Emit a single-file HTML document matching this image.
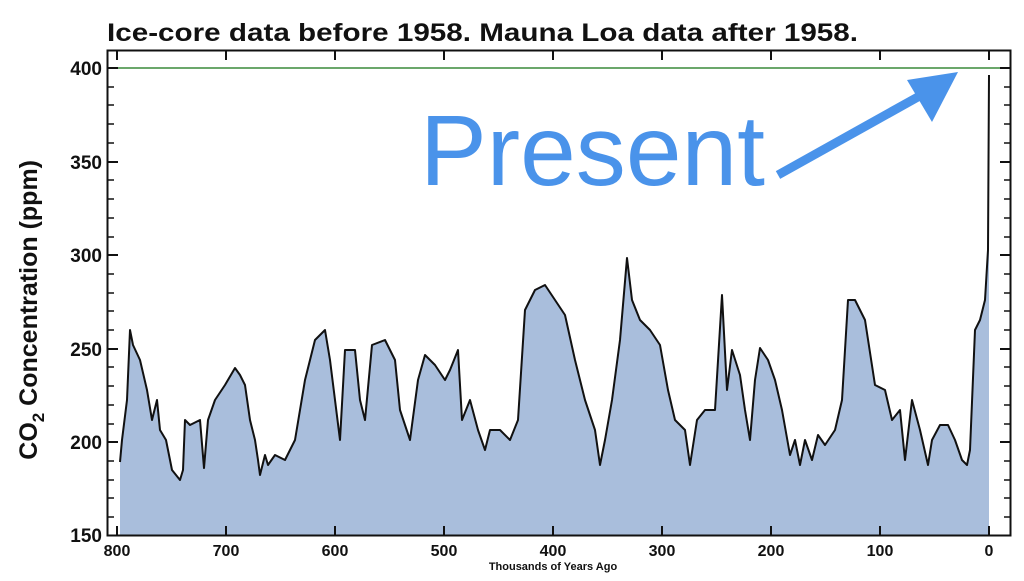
<!DOCTYPE html>
<html><head><meta charset="utf-8"><style>
body{margin:0;background:#fff;width:1024px;height:576px;overflow:hidden}
svg text{font-family:"Liberation Sans",sans-serif}
</style></head><body>
<svg width="1024" height="576" viewBox="0 0 1024 576">
<text x="107" y="41" font-size="25" font-weight="bold" fill="#111" textLength="751" lengthAdjust="spacingAndGlyphs">Ice-core data before 1958. Mauna Loa data after 1958.</text>
<polygon fill="#a9bedc" stroke="none" points="120,535 120,462 122,440 127,400 130,330 133,345 140,360 147,390 152,420 157,400 160,430 166,440 172,470 180,480 183,470 185,420 190,425 200,420 204,468 208,420 215,400 225,385 235,368 240,375 245,385 250,420 255,440 258,460 260,475 265,455 268,465 275,455 285,460 295,440 305,380 315,340 325,330 330,360 340,440 345,350 355,350 360,400 365,420 372,345 385,340 395,360 400,410 410,440 418,380 425,355 435,365 445,380 450,370 458,350 462,420 470,400 478,430 485,450 490,430 500,430 510,440 518,420 525,310 535,290 545,285 555,300 565,315 575,360 585,400 595,430 600,465 605,440 612,400 620,340 627,258 632,300 640,320 650,330 660,345 668,390 675,420 685,430 690,465 697,420 705,410 715,410 722,295 727,390 732,350 740,375 745,410 750,440 755,380 760,348 768,360 775,380 782,410 790,455 795,440 800,465 805,440 812,460 818,435 825,445 835,430 842,400 848,300 855,300 865,320 875,385 885,390 892,420 900,410 905,460 912,400 920,430 928,465 932,440 940,425 948,425 955,440 962,460 967,465 970,450 975,330 980,320 985,300 988,250 989,75 989,535"/>
<polyline fill="none" stroke="#111" stroke-width="2" stroke-linejoin="round" points="120,462 122,440 127,400 130,330 133,345 140,360 147,390 152,420 157,400 160,430 166,440 172,470 180,480 183,470 185,420 190,425 200,420 204,468 208,420 215,400 225,385 235,368 240,375 245,385 250,420 255,440 258,460 260,475 265,455 268,465 275,455 285,460 295,440 305,380 315,340 325,330 330,360 340,440 345,350 355,350 360,400 365,420 372,345 385,340 395,360 400,410 410,440 418,380 425,355 435,365 445,380 450,370 458,350 462,420 470,400 478,430 485,450 490,430 500,430 510,440 518,420 525,310 535,290 545,285 555,300 565,315 575,360 585,400 595,430 600,465 605,440 612,400 620,340 627,258 632,300 640,320 650,330 660,345 668,390 675,420 685,430 690,465 697,420 705,410 715,410 722,295 727,390 732,350 740,375 745,410 750,440 755,380 760,348 768,360 775,380 782,410 790,455 795,440 800,465 805,440 812,460 818,435 825,445 835,430 842,400 848,300 855,300 865,320 875,385 885,390 892,420 900,410 905,460 912,400 920,430 928,465 932,440 940,425 948,425 955,440 962,460 967,465 970,450 975,330 980,320 985,300 988,250 989,75"/>
<line x1="108" y1="68" x2="1010" y2="68" stroke="#3a8a3a" stroke-width="1.5"/>
<rect x="107.5" y="50.5" width="903" height="485" fill="none" stroke="#111" stroke-width="2"/>
<g stroke="#111" stroke-width="2">
<line x1="108" y1="68" x2="118" y2="68"/><line x1="108" y1="162" x2="118" y2="162"/><line x1="108" y1="255" x2="118" y2="255"/><line x1="108" y1="349" x2="118" y2="349"/><line x1="108" y1="442" x2="118" y2="442"/>
<line x1="1000" y1="68" x2="1010" y2="68"/><line x1="1000" y1="162" x2="1010" y2="162"/><line x1="1000" y1="255" x2="1010" y2="255"/><line x1="1000" y1="349" x2="1010" y2="349"/><line x1="1000" y1="442" x2="1010" y2="442"/>
<line x1="117" y1="535" x2="117" y2="526"/><line x1="226" y1="535" x2="226" y2="526"/><line x1="335" y1="535" x2="335" y2="526"/><line x1="444" y1="535" x2="444" y2="526"/><line x1="553" y1="535" x2="553" y2="526"/><line x1="662" y1="535" x2="662" y2="526"/><line x1="771" y1="535" x2="771" y2="526"/><line x1="880" y1="535" x2="880" y2="526"/><line x1="989" y1="535" x2="989" y2="526"/>
<line x1="117" y1="51" x2="117" y2="60"/><line x1="226" y1="51" x2="226" y2="60"/><line x1="335" y1="51" x2="335" y2="60"/><line x1="444" y1="51" x2="444" y2="60"/><line x1="553" y1="51" x2="553" y2="60"/><line x1="662" y1="51" x2="662" y2="60"/><line x1="771" y1="51" x2="771" y2="60"/><line x1="880" y1="51" x2="880" y2="60"/><line x1="989" y1="51" x2="989" y2="60"/>
</g>
<g stroke="#111" stroke-width="1.5">
<line x1="108" y1="87" x2="114" y2="87"/><line x1="108" y1="105" x2="114" y2="105"/><line x1="108" y1="124" x2="114" y2="124"/><line x1="108" y1="143" x2="114" y2="143"/>
<line x1="108" y1="180" x2="114" y2="180"/><line x1="108" y1="199" x2="114" y2="199"/><line x1="108" y1="218" x2="114" y2="218"/><line x1="108" y1="237" x2="114" y2="237"/>
<line x1="108" y1="274" x2="114" y2="274"/><line x1="108" y1="293" x2="114" y2="293"/><line x1="108" y1="311" x2="114" y2="311"/><line x1="108" y1="330" x2="114" y2="330"/>
<line x1="108" y1="367" x2="114" y2="367"/><line x1="108" y1="386" x2="114" y2="386"/><line x1="108" y1="405" x2="114" y2="405"/><line x1="108" y1="424" x2="114" y2="424"/>
<line x1="108" y1="461" x2="114" y2="461"/><line x1="108" y1="480" x2="114" y2="480"/><line x1="108" y1="498" x2="114" y2="498"/><line x1="108" y1="517" x2="114" y2="517"/>
<line x1="1004" y1="87" x2="1010" y2="87"/><line x1="1004" y1="105" x2="1010" y2="105"/><line x1="1004" y1="124" x2="1010" y2="124"/><line x1="1004" y1="143" x2="1010" y2="143"/>
<line x1="1004" y1="180" x2="1010" y2="180"/><line x1="1004" y1="199" x2="1010" y2="199"/><line x1="1004" y1="218" x2="1010" y2="218"/><line x1="1004" y1="237" x2="1010" y2="237"/>
<line x1="1004" y1="274" x2="1010" y2="274"/><line x1="1004" y1="293" x2="1010" y2="293"/><line x1="1004" y1="311" x2="1010" y2="311"/><line x1="1004" y1="330" x2="1010" y2="330"/>
<line x1="1004" y1="367" x2="1010" y2="367"/><line x1="1004" y1="386" x2="1010" y2="386"/><line x1="1004" y1="405" x2="1010" y2="405"/><line x1="1004" y1="424" x2="1010" y2="424"/>
<line x1="1004" y1="461" x2="1010" y2="461"/><line x1="1004" y1="480" x2="1010" y2="480"/><line x1="1004" y1="498" x2="1010" y2="498"/><line x1="1004" y1="517" x2="1010" y2="517"/>
</g>
<g font-size="19" font-weight="bold" fill="#111" text-anchor="end">
<text x="102" y="75">400</text><text x="102" y="169">350</text><text x="102" y="262">300</text><text x="102" y="356">250</text><text x="102" y="449">200</text><text x="102" y="542">150</text>
</g>
<g font-size="16" font-weight="bold" fill="#111" text-anchor="middle">
<text x="117" y="556">800</text><text x="226" y="556">700</text><text x="335" y="556">600</text><text x="444" y="556">500</text><text x="553" y="556">400</text><text x="662" y="556">300</text><text x="771" y="556">200</text><text x="880" y="556">100</text><text x="989" y="556">0</text>
</g>
<text x="553" y="570" font-size="11" font-weight="bold" fill="#111" text-anchor="middle">Thousands of Years Ago</text>
<text transform="translate(37,160) rotate(-90)" font-size="25" font-weight="bold" fill="#111" text-anchor="end">CO<tspan font-size="17" dy="7">2</tspan><tspan dy="-7"> Concentration (ppm)</tspan></text>
<text x="420" y="185" font-size="100" fill="#4a93ea" textLength="345" lengthAdjust="spacingAndGlyphs">Present</text>
<line x1="778" y1="175" x2="925" y2="93" stroke="#4a93ea" stroke-width="9"/>
<polygon points="958,72 907,80 932,122" fill="#4a93ea"/>
</svg>
</body></html>
